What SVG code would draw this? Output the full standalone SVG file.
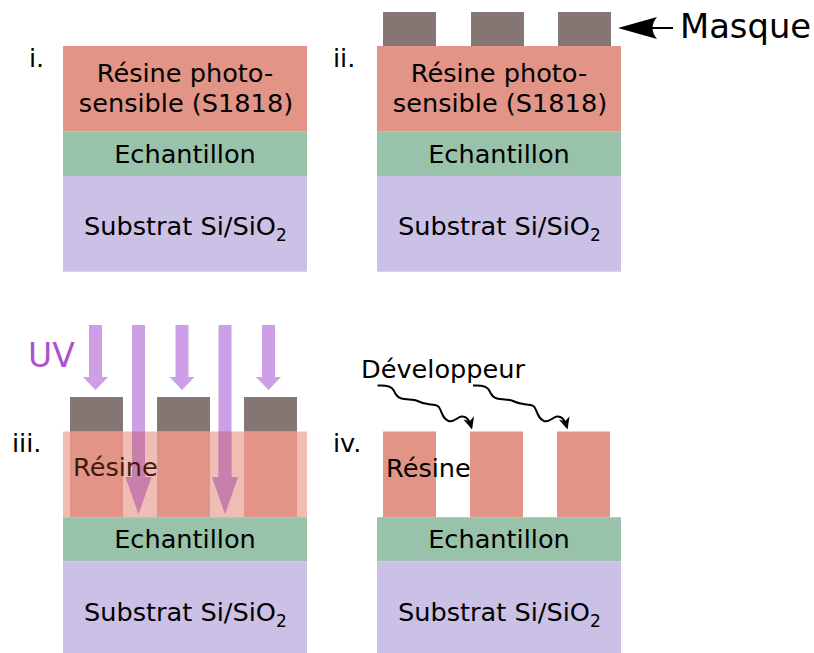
<svg xmlns="http://www.w3.org/2000/svg" width="814" height="653" viewBox="0 0 814 653">
<style>
text{font-family:"DejaVu Sans",sans-serif;font-size:25.6px;fill:#000}
.res{fill:#e29486}
.resl{fill:#f0bdb5}
.ech{fill:#99c2aa}
.sub{fill:#cbc0e5}
.mask{fill:#857674}
.uv{fill:#cc9fe6}
.uvr{fill:#c97fab}
.mid{text-anchor:middle}
.wave{fill:none;stroke:#000;stroke-width:2;marker-end:url(#ah)}
</style>
<defs>
<marker id="ah" markerWidth="16" markerHeight="16" viewBox="-12 -8 16 16" refX="0" refY="0" orient="auto" markerUnits="userSpaceOnUse">
<path d="M2,0 L-10,-5.5 L-6.5,0 L-10,5.5 Z" fill="#000"/>
</marker>
<clipPath id="resclip"><rect x="63" y="431.5" width="244" height="85.7"/></clipPath>
<path id="uvs" d="M-6.5,0 H6.5 V52 H12.5 L0,65 L-12.5,52 H-6.5 Z"/>
<path id="uvl" d="M-6.5,0 H6.5 V152 H13 L0,189 L-13,152 H-6.5 Z"/>
<path id="wv" d="M0,0 C8,-0.5 14,0.5 16,4.5 S19,11.5 24,13 S36,13.5 40,15.5 S47,18.5 53,19 S61,19.5 63,24.5 S66,33.5 71,35.5 S80,31.5 84,31 S91,33.5 93,38.5 L94,42"/>
</defs>

<g id="panel-i">
<rect class="res" x="63" y="46" width="244" height="85.7"/>
<rect class="ech" x="63" y="131.7" width="244" height="44.3"/>
<rect class="sub" x="63" y="176" width="244" height="95.7"/>
<text x="29" y="67">i.</text>
<text class="mid" x="185" y="82">Résine photo-</text>
<text class="mid" x="186" y="112">sensible (S1818)</text>
<text class="mid" x="185" y="163">Echantillon</text>
<text x="84" y="235">Substrat Si/SiO<tspan font-size="17" dy="6">2</tspan></text>
</g>

<g id="panel-ii">
<rect class="res" x="377" y="46" width="244" height="85.7"/>
<rect class="ech" x="377" y="131.7" width="244" height="44.3"/>
<rect class="sub" x="377" y="176" width="244" height="95.7"/>
<rect class="mask" x="383" y="12" width="53" height="34"/>
<rect class="mask" x="471" y="12" width="53" height="34"/>
<rect class="mask" x="558" y="12" width="53" height="34"/>
<text x="333" y="67">ii.</text>
<text class="mid" x="499" y="82">Résine photo-</text>
<text class="mid" x="500" y="112">sensible (S1818)</text>
<text class="mid" x="499" y="163">Echantillon</text>
<text x="398" y="235">Substrat Si/SiO<tspan font-size="17" dy="6">2</tspan></text>
</g>

<g id="masque-label">
<path d="M618,28 L657,17 C651,24 651,32 657,39 Z" fill="#000"/>
<line x1="650" y1="28" x2="673" y2="28" stroke="#000" stroke-width="2"/>
<text x="680" y="38" style="font-size:33.8px">Masque</text>
</g>

<g id="panel-iii">
<rect class="resl" x="63" y="431.5" width="244" height="85.7"/>
<rect class="res" x="70" y="431.5" width="53" height="85.7"/>
<rect class="res" x="157" y="431.5" width="53" height="85.7"/>
<rect class="res" x="244" y="431.5" width="53" height="85.7"/>
<rect class="ech" x="63" y="517.2" width="244" height="44.3"/>
<rect class="sub" x="63" y="561.5" width="244" height="95.5"/>
<rect class="mask" x="70" y="397" width="53" height="34.5"/>
<rect class="mask" x="157" y="397" width="53" height="34.5"/>
<rect class="mask" x="244" y="397" width="53" height="34.5"/>
<text x="12" y="452">iii.</text>
<text class="mid" x="185" y="548">Echantillon</text>
<text x="84" y="621">Substrat Si/SiO<tspan font-size="17" dy="6">2</tspan></text>
</g>

<g id="uv">
<text x="28" y="367" style="font-size:33px;fill:#ad52cc">UV</text>
<use href="#uvs" class="uv" x="95.5" y="325"/>
<use href="#uvs" class="uv" x="182" y="325"/>
<use href="#uvs" class="uv" x="268.5" y="325"/>
<use href="#uvl" class="uv" x="138.5" y="325"/>
<use href="#uvl" class="uv" x="225" y="325"/>
<g clip-path="url(#resclip)">
<use href="#uvl" class="uvr" x="138.5" y="325"/>
<use href="#uvl" class="uvr" x="225" y="325"/>
</g>
<text x="73" y="476" style="fill:#44190f">Résine</text>
</g>

<g id="panel-iv">
<rect class="res" x="383" y="431.5" width="53" height="85.7"/>
<rect class="res" x="470" y="431.5" width="53" height="85.7"/>
<rect class="res" x="557" y="431.5" width="53" height="85.7"/>
<rect class="ech" x="377" y="517.2" width="244" height="44.3"/>
<rect class="sub" x="377" y="561.5" width="244" height="95.5"/>
<text x="333" y="452">iv.</text>
<text x="386" y="477">Résine</text>
<text class="mid" x="499" y="548">Echantillon</text>
<text x="398" y="621">Substrat Si/SiO<tspan font-size="17" dy="6">2</tspan></text>
<text x="361" y="378">Développeur</text>
</g>

<g id="connectors">
<use href="#wv" class="wave" x="377.5" y="385.5"/>
<use href="#wv" class="wave" x="473" y="385.5"/>
</g>
</svg>
